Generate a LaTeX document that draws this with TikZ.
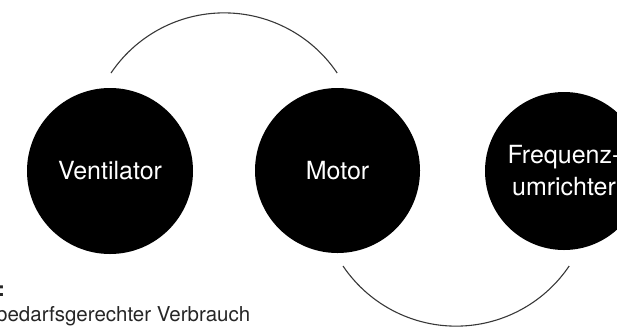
\documentclass[tikz,border=0pt]{standalone}
\usepackage{fontspec}
\setmainfont{TeX Gyre Heros}
\begin{document}
\begin{tikzpicture}[x=1pt,y=-1pt,
  disc/.style={circle,fill=black,text=white,inner sep=0pt,minimum size=#1,align=center,
    font=\fontsize{25}{32}\selectfont},
  link/.style={draw=black!78,line width=1.1pt},
  note/.style={inner sep=0pt,font=\fontsize{20.5}{24}\selectfont,text=black!85}]
\useasboundingbox (0,0) rectangle (617,327);
\clip (0,0) rectangle (617,327);
\node[disc=166pt] (v) at (110,171) {Ventilator};
\node[disc=165pt] (m) at (337.5,170.5) {Motor};
\node[disc=158pt] (f) at (564,171) {Frequenz-\\umrichter};
\coordinate (t1) at (111,73);
\coordinate (b1) at (343,266);
\draw[link] (t1) arc[start angle=214,end angle=326,radius=136.4];
\draw[link] (b1) arc[start angle=146,end angle=34,radius=136.4];
\node[note,anchor=base west,font=\fontsize{20.5}{24}\selectfont\bfseries] (c) at (-2,296) {:};
\node[note,anchor=base west] (n) at (-4,321) {bedarfsgerechter Verbrauch};
\end{tikzpicture}
\end{document}
